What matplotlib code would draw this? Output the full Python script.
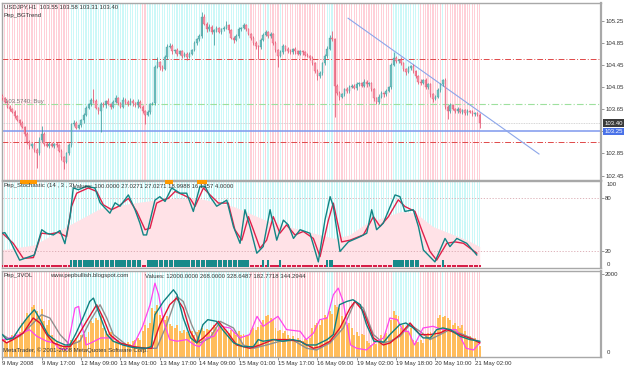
import numpy as np
import matplotlib
matplotlib.use("Agg")
import matplotlib.pyplot as plt
import matplotlib.transforms as mtransforms

plt.rcParams["font.family"] = ["Liberation Sans", "DejaVu Sans"]
FS = 4.3
TXT = "#333333"

# ---------------- USDJPY H1 candles ----------------
first_open = 103.90
closes = [
    103.85, 103.78, 103.70, 103.66, 103.60, 103.52, 103.45, 103.40, 103.33, 103.20,
    103.05, 102.98, 103.02, 102.92, 102.85, 103.10, 103.20, 103.02, 102.98, 103.03,
    102.98, 103.02, 103.00, 102.90, 102.78, 102.70, 102.85, 103.00, 103.38, 103.40,
    103.32, 103.36, 103.45, 103.55, 103.68, 103.75, 103.82, 103.80, 103.68, 103.62,
    103.75, 103.72, 103.80, 103.74, 103.70, 103.78, 103.85, 103.76, 103.70, 103.82,
    103.78, 103.74, 103.80, 103.76, 103.72, 103.78, 103.70, 103.62, 103.55, 103.60,
    103.74, 103.76, 104.42, 104.50, 104.42, 104.38, 104.60, 104.78, 104.80, 104.70,
    104.72, 104.66, 104.70, 104.62, 104.65, 104.60, 104.66, 104.72, 104.85, 104.92,
    104.98, 105.32, 105.20, 105.10, 105.15, 105.05, 105.08, 105.12, 105.05, 105.10,
    105.12, 105.18, 105.08, 104.95, 104.90, 104.98, 105.10, 105.12, 105.18, 105.10,
    105.02, 104.95, 104.85, 104.80, 104.78, 104.90, 105.00, 105.05, 104.98, 105.02,
    104.85, 104.72, 104.62, 104.68, 104.80, 104.75, 104.70, 104.68, 104.74, 104.70,
    104.66, 104.70, 104.68, 104.64, 104.62, 104.58, 104.48, 104.35, 104.25, 104.30,
    104.48, 104.62, 104.75, 104.95, 104.92, 104.08, 103.95, 103.88, 103.92, 104.02,
    103.98, 104.05, 104.08, 104.04, 104.10, 104.12, 104.08, 104.15, 104.10, 104.12,
    104.02, 103.85, 103.78, 103.88, 103.95, 103.92, 103.98, 104.05, 104.45, 104.58,
    104.52, 104.55, 104.48, 104.38, 104.32, 104.40, 104.44, 104.35, 104.25, 104.15,
    104.12, 104.18, 104.05, 104.10, 103.92, 103.84, 103.88, 104.00, 104.10, 104.18,
    103.70, 103.62, 103.72, 103.65, 103.62, 103.66, 103.60, 103.63, 103.58, 103.62,
    103.60, 103.56, 103.58, 103.55, 103.40,
]
# wick lengths in pips above / below the body
hi_wick = [
    3, 2, 3, 2, 2, 3, 2, 2, 3, 2, 3, 4, 2, 3, 2, 5, 15, 3, 4, 2,
    3, 2, 3, 2, 3, 2, 3, 4, 2, 5, 3, 2, 3, 4, 3, 2, 4, 20, 3, 2,
    3, 4, 2, 5, 3, 4, 6, 2, 3, 5, 3, 4, 6, 3, 2, 5, 3, 2, 2, 4,
    2, 3, 4, 9, 3, 4, 3, 5, 6, 3, 2, 4, 3, 2, 4, 3, 3, 2, 4, 3,
    3, 9, 5, 3, 4, 2, 3, 4, 3, 2, 4, 7, 2, 3, 2, 3, 4, 3, 4, 2,
    3, 2, 3, 4, 2, 5, 4, 3, 2, 3, 2, 3, 2, 4, 3, 2, 3, 4, 2, 3,
    3, 2, 3, 2, 3, 2, 3, 2, 3, 4, 3, 4, 5, 4, 12, 3, 2, 4, 3, 2,
    3, 4, 2, 3, 4, 3, 2, 4, 3, 2, 3, 2, 3, 4, 3, 2, 3, 2, 4, 11,
    3, 2, 4, 3, 2, 3, 2, 3, 2, 3, 4, 2, 3, 2, 3, 2, 3, 4, 3, 2,
    3, 2, 4, 3, 2, 3, 2, 3, 2, 3, 2, 3, 2, 3, 3,
]
lo_wick = [
    3, 2, 3, 4, 2, 3, 2, 3, 2, 4, 3, 5, 3, 4, 26, 3, 4, 3, 2, 3,
    2, 3, 4, 3, 4, 13, 3, 2, 3, 4, 3, 2, 3, 4, 2, 3, 4, 3, 2, 5,
    38, 3, 4, 2, 5, 3, 2, 4, 3, 2, 4, 3, 2, 5, 3, 4, 3, 4, 17, 3,
    3, 2, 4, 3, 5, 3, 2, 3, 2, 4, 3, 5, 2, 4, 3, 5, 2, 3, 2, 3,
    4, 3, 2, 5, 3, 4, 23, 3, 2, 4, 3, 2, 4, 3, 5, 2, 3, 4, 2, 3,
    3, 4, 3, 5, 21, 3, 2, 3, 4, 3, 3, 4, 20, 3, 2, 4, 3, 2, 3, 4,
    2, 3, 4, 3, 2, 4, 3, 5, 7, 3, 2, 3, 4, 2, 3, 57, 4, 6, 3, 2,
    4, 3, 2, 3, 4, 2, 3, 2, 4, 3, 3, 5, 4, 3, 2, 4, 3, 2, 3, 2,
    3, 4, 2, 3, 4, 2, 3, 4, 3, 5, 3, 2, 4, 3, 4, 5, 3, 2, 3, 2,
    4, 15, 3, 2, 4, 3, 2, 3, 4, 3, 2, 3, 4, 3, 9,
]

# background trend stripes (d = pink, u = cyan), as runs of bars
bg_runs = [("d", 28), ("u", 29), ("d", 2), ("u", 42), ("d", 5), ("u", 1), ("d", 1),
           ("u", 1), ("d", 4), ("u", 1), ("d", 18), ("u", 3), ("d", 24), ("u", 11),
           ("d", 9), ("u", 1), ("d", 15)]
mark_runs = bg_runs

# chart objects
levels_red = [104.556, 103.05]
level_green = 103.75
bid_price = 103.40
level_blue = 103.25
trend_x = [140.5, 218.1]
trend_y = [105.30, 102.84]

# ---------------- Stochastic (14,3,3) ----------------
st_main_x = [0, 1, 3, 7, 11, 13, 16, 18, 20.7, 23.4, 25.4, 27.5, 28.8, 30.9, 34.2, 37.6, 39.7,
             43.7, 45.8, 47.8, 51.2, 53.9, 55.9, 57.3, 58.6, 62, 64, 66.1, 68.8, 72.2, 74.9,
             77.6, 80.3, 82.4, 84.4, 87.1, 91.2, 93.9, 96.6, 98.6, 100.6, 103.4, 106, 108.8,
             111.5, 114.2, 116.2, 118.3, 121, 125, 128.4, 131.1, 133.2, 134.5, 137.2, 140.6,
             145.4, 148.1, 150.1, 152.1, 154.8, 159.6, 161.6, 163.6, 167, 169.1, 171.1, 175.8,
             179.9, 181.9, 184.7, 188.7, 192.8]
st_main_v = [40, 40.7, 32, 9, 13, 15, 44, 40, 38, 43, 28, 59, 92, 90, 94, 92, 75,
             63, 75, 71, 84, 67, 51.5, 38, 38, 78, 82, 76.5, 92, 86, 86,
             65, 94, 94, 82, 71, 78, 47.6, 28.4, 67, 47.6, 17, 24.6, 67,
             32, 55, 49.6, 34, 44, 40, 7, 55, 82, 71, 19, 30,
             36, 40, 67, 44, 51.5, 84, 82, 65, 67, 47.6, 20.7, 7,
             34, 24.6, 34, 28.4, 15]
st_sig_x = [0, 4.4, 8.5, 12.6, 15.9, 19.3, 22.7, 26.1, 28.1, 30.2, 34.9, 38.3, 41, 44.4, 47.1,
            51.2, 54.6, 58, 60, 62.7, 65.4, 67.4, 70.2, 73.5, 76.3, 78.3, 81.7, 84.4, 87.8,
            91.8, 94.5, 97.3, 100, 102, 104.7, 107.4, 110.1, 112.8, 115.5, 118.9, 122.3,
            126.4, 129.1, 132.5, 134.5, 137.9, 141.3, 146.7, 150.8, 153.5, 156.9, 160.9,
            163.6, 167.7, 170.4, 173.8, 176.5, 180.6, 184, 187.4, 192.8]
st_sig_v = [40, 28.4, 11, 12, 40, 39, 41, 36, 70.7, 86, 92, 88, 72.7, 67, 70.7,
            80, 65, 44, 45.7, 74.6, 78.4, 80, 88, 84, 80, 70.7, 92, 84, 74.6,
            74.6, 44, 32, 59, 44, 22.7, 32, 59, 40, 49.6, 38, 42,
            34, 13, 55, 74.6, 30, 32, 38, 59, 47.7, 59, 78.4,
            70.7, 65, 44, 19, 9, 28.4, 30, 28.4, 17]
hump_x = [0, 13, 26, 40, 53, 67, 80, 94, 107, 121, 135, 141, 148, 162, 168, 175, 189, 194]
hump_v = [21, 26.5, 47.6, 68.8, 74.6, 80, 80, 70.7, 55, 44, 34, 38, 51.5, 65, 63, 47.6, 32, 24.6]
orange_spans = [(7.2, 14.0), (66.0, 69.4), (79.0, 83.2)]

# ---------------- Volume + 3 averages ----------------
volume = [
    380, 420, 350, 460, 520, 560, 480, 600, 820, 900,
    1050, 980, 1200, 1260, 1100, 1000, 1150, 860, 780, 900,
    520, 450, 380, 300, 280, 320, 260, 300, 420, 380,
    460, 400, 520, 560, 480, 600, 860, 820, 940, 900,
    980, 700, 620, 560, 600, 500, 380, 420, 360, 340,
    300, 360, 320, 380, 420, 460, 400, 620, 780, 700,
    820, 1180, 1100, 1260, 1020, 940, 880, 980, 800, 740,
    700, 760, 620, 580, 660, 600, 560, 620, 540, 600,
    640, 700, 620, 680, 660, 600, 780, 720, 820, 760,
    700, 620, 580, 660, 600, 540, 620, 520, 560, 500,
    540, 660, 700, 640, 720, 760, 900, 980, 1020, 940,
    880, 700, 620, 660, 580, 620, 540, 460, 500, 420,
    460, 420, 380, 440, 400, 460, 700, 780, 820, 760,
    900, 1020, 960, 1100, 1040, 1260, 1200, 1180, 1000, 900,
    780, 820, 700, 540, 600, 500, 560, 520, 380, 340,
    300, 360, 320, 420, 540, 500, 580, 520, 900, 1100,
    1020, 980, 700, 760, 680, 620, 700, 420, 380, 360,
    400, 340, 520, 580, 600, 560, 620, 940, 1020, 960,
    1000, 940, 880, 780, 820, 740, 700, 780, 620, 460,
    500, 420, 460, 380, 268,
]
mag_x = [0, 3, 7, 11, 14, 18, 21, 23, 26, 28, 29.5, 31, 32, 34, 36, 40, 45, 49, 53, 57, 60, 62,
         63.5, 65.5, 68, 71, 75, 78, 80, 83, 86, 88.5, 92.5, 96.5, 100.5, 103.5, 106, 109, 112,
         115.5, 121, 123.5, 126.5, 129, 132, 134.5, 136.5, 138.5, 141.5, 144, 148, 152, 155,
         157.5, 160.5, 163, 165, 167.5, 171, 175, 179, 184.5, 188.5, 191.5, 194]
mag_v = [410, 460, 540, 660, 500, 380, 340, 210, 170, 700, 1180, 1220, 860, 290, 340, 460, 460,
         290, 250, 740, 1260, 1780, 1500, 860, 420, 380, 420, 290, 250, 460, 500, 740, 700, 460,
         540, 980, 740, 860, 980, 660, 620, 420, 580, 900, 940, 1500, 1660, 1340, 290, 210, 170,
         380, 460, 940, 900, 620, 620, 290, 700, 740, 660, 660, 210, 170, 340]
teal_x = [0, 1.7, 4.4, 7, 10, 13, 15, 18.5, 22, 25.5, 27.5, 30, 33, 35.5, 37, 39.5, 42.5, 45, 49,
          53, 58.5, 60.5, 62, 65.5, 69.5, 71, 73.5, 76.5, 79, 81.5, 83.5, 87, 90, 94, 98, 102,
          104, 106, 110, 114, 118, 121, 123.5, 127.5, 132, 134.5, 137, 140, 142.5, 145.5, 148,
          151, 155, 157.5, 161.5, 164, 167, 171, 174, 176.5, 179, 182, 186, 190, 194]
teal_v = [540, 420, 460, 700, 940, 1140, 940, 540, 380, 290, 290, 580, 980, 1340, 1420, 1020, 540,
          380, 290, 230, 210, 250, 1020, 1340, 1620, 1500, 940, 460, 340, 780, 900, 860, 620, 340,
          250, 250, 420, 380, 420, 380, 420, 380, 290, 290, 420, 540, 1260, 1340, 1380, 1260, 780,
          380, 360, 540, 780, 820, 700, 460, 460, 660, 700, 660, 500, 420, 380]
red_x = [0, 1.7, 4.4, 8.5, 12.5, 15.3, 18, 20.7, 24.8, 27.5, 30.2, 34.2, 38.3, 41, 43.7, 47.8, 53.2,
         58.6, 60.7, 64, 68, 70.8, 73.5, 76.3, 79, 81.7, 84.4, 87.8, 91.2, 95.2, 100.6, 104.7,
         110.1, 115.5, 121, 126.4, 129.1, 133.2, 137.2, 141.3, 143.3, 146.7, 150.8, 154.8, 157.6,
         161.6, 165.7, 169.7, 173.8, 177.9, 180.6, 186, 191.4, 194]
red_v = [410, 340, 420, 580, 940, 820, 540, 340, 250, 250, 460, 860, 1260, 940, 540, 340, 250,
         210, 210, 780, 1260, 1420, 1180, 620, 340, 460, 620, 860, 620, 290, 210, 290,
         420, 420, 380, 210, 250, 380, 700, 1180, 1340, 1100, 460, 290, 340,
         540, 820, 540, 540, 580, 660, 540, 420, 340]
gray_x = [0, 3.1, 7.1, 11.2, 15.9, 19.3, 23.4, 27.5, 31.5, 35.6, 39.7, 42.4, 45.1, 50.5, 55.9, 62.7,
          66.8, 70.8, 73.5, 76.9, 80.3, 84.4, 88.5, 93.9, 97.9, 102, 107.4, 112.8, 118.3, 123.7,
          127.7, 133.2, 138.6, 143.3, 146.7, 150.8, 154.8, 157.6, 161.6, 165.7, 169.7, 173.8,
          177.9, 181.9, 187.4, 194]
gray_v = [540, 420, 500, 740, 1020, 940, 540, 290, 380, 860, 1260, 940, 540, 290, 210, 210,
          780, 1460, 1340, 780, 340, 460, 860, 700, 290, 210, 290, 380, 400, 210,
          170, 340, 700, 1340, 1180, 540, 340, 380, 500, 780, 620, 420,
          540, 660, 540, 360]

date_labels = ["9 May 2008", "9 May 17:00", "12 May 09:00", "13 May 01:00", "13 May 17:00",
               "14 May 09:00", "15 May 01:00", "15 May 17:00", "16 May 09:00", "19 May 02:00",
               "19 May 18:00", "20 May 10:00", "21 May 02:00"]
price_ticks = [105.25, 104.85, 104.45, 104.05, 103.65, 103.25, 102.85, 102.45]

# ---------------- derived ----------------
n = len(closes)
idx = np.arange(n)
c = np.array(closes)
o = np.concatenate([[first_open], c[:-1]])
hi = np.maximum(o, c) + np.array(hi_wick) * 0.01
lo = np.minimum(o, c) - np.array(lo_wick) * 0.01
bg = "".join(k * m for k, m in bg_runs)
marks = "".join(k * m for k, m in mark_runs)
up = c >= o

W, H = 625, 368
fig = plt.figure(figsize=(W / 100, H / 100), dpi=100)
fig.patch.set_facecolor("white")


def box(top, bottom):
    return [2 / W, 1 - bottom / H, 599 / W, (bottom - top) / H]


ax1 = fig.add_axes(box(3, 180))
ax2 = fig.add_axes(box(181, 268), sharex=ax1)
ax3 = fig.add_axes(box(271, 357), sharex=ax1)

XL = (-0.16, 243.3)
PINK, CYAN = "#ffd0d8", "#ccf8f8"

for ax in (ax1, ax2, ax3):
    ax.set_xlim(*XL)
    for s in ax.spines.values():
        s.set_color("#a8a8a8")
        s.set_linewidth(1.0)
    ax.spines["right"].set_linewidth(1.6)
    ax.yaxis.tick_right()
    ax.tick_params(axis="y", direction="out", length=2, width=0.6, colors="#888888",
                   labelcolor=TXT, labelsize=FS, pad=1)
    ax.tick_params(axis="x", bottom=False, labelbottom=False)

# ---- main price panel ----
ax1.set_ylim(102.369, 105.576)
y0, y1 = ax1.get_ylim()
stripe_cols = [PINK if t == "d" else CYAN for t in bg]
ax1.bar(idx, y1 - y0, bottom=y0, width=0.5, color=stripe_cols, linewidth=0, zorder=0)
for lv in levels_red:
    ax1.axhline(lv, color="#e04848", lw=0.7, ls=(0, (6, 2, 1, 2)), zorder=1)
ax1.axhline(level_green, color="#9ee09e", lw=0.8, ls=(0, (6, 2, 1, 2)), zorder=1)
ax1.axhline(bid_price, color="#c8c8c8", lw=0.6, ls=(0, (1, 1)), zorder=1)
ax1.axhline(level_blue, color="#7f98ee", lw=1.1, zorder=1)
ax1.plot(trend_x, trend_y, color="#8ca6ea", lw=0.8, zorder=2)

body_col = np.where(up, "#72c0c0", "#f592a6")
wick_col = np.where(up, "#3a9c9c", "#e4506c")
ax1.vlines(idx, lo, hi, colors=wick_col, lw=0.55, zorder=3)
ax1.bar(idx, np.maximum(np.abs(c - o), 0.006), bottom=np.minimum(o, c), width=0.6,
        color=body_col, edgecolor=wick_col, linewidth=0.25, zorder=4)
ax1.set_yticks(price_ticks)
ax1.set_yticklabels([f"{p:.2f}" for p in price_ticks])
trans = mtransforms.blended_transform_factory(ax1.transAxes, ax1.transData)
ax1.text(1.006, bid_price, f"{bid_price:.2f}", transform=trans, ha="left", va="center",
         fontsize=FS, color="white",
         bbox=dict(facecolor="#3a3a3a", edgecolor="none", pad=0.8))
ax1.text(1.006, level_blue, f"{level_blue:.2f}", transform=trans, ha="left", va="center",
         fontsize=FS, color="white",
         bbox=dict(facecolor="#4a72e8", edgecolor="none", pad=0.8))
ax1.text(1.2, 103.80, "103.5740; Buy", fontsize=FS, color="#777777", va="center", zorder=5)

# ---- stochastic panel ----
ax2.set_ylim(0, 100)
ax2.bar(idx, 100, width=0.5, color=CYAN, linewidth=0, zorder=0)
ax2.fill_between(hump_x, 0, hump_v, color="#ffe2e7", linewidth=0, zorder=1)
for lv in (80, 20):
    ax2.axhline(lv, color="#d9a8b0", lw=0.6, ls=(0, (1.5, 2)), zorder=2)
mcols = ["#d81e48" if m == "d" else "#178a8a" for m in marks]
mh = [3.0 if m == "d" else 8.0 for m in marks]
ax2.bar(idx, mh, bottom=0.8, width=0.85, color=mcols, linewidth=0, zorder=3)
ax2.plot(st_sig_x, st_sig_v, color="#e0204a", lw=1.0, zorder=4)
ax2.plot(st_main_x, st_main_v, color="#118585", lw=1.0, zorder=5)
for a, b in orange_spans:
    ax2.add_patch(plt.Rectangle((a, 96.8), b - a, 4.2, color="#ff9900", lw=0,
                                zorder=6, clip_on=False))
ax2.set_yticks([80, 20])
ax2.text(1.01, 0.96, "100", transform=ax2.transAxes, fontsize=FS, color=TXT, va="center")
ax2.text(1.01, 0.04, "0", transform=ax2.transAxes, fontsize=FS, color=TXT, va="center")

# ---- volume panel ----
ax3.set_ylim(0, 2073)
ax3.bar(idx, 2073, width=0.5, color=stripe_cols, linewidth=0, zorder=0)
ax3.bar(idx, volume, width=0.8, color="#ffbd5c", linewidth=0, zorder=1)
ax3.plot(gray_x, gray_v, color="#8f8f8f", lw=1.0, zorder=2)
ax3.plot(mag_x, mag_v, color="#ff44ee", lw=0.9, zorder=3)
ax3.plot(red_x, red_v, color="#e0102e", lw=1.0, zorder=4)
ax3.plot(teal_x, teal_v, color="#0f8080", lw=1.0, zorder=5)
ax3.set_yticks([2000])
ax3.text(1.01, 0.05, "0", transform=ax3.transAxes, fontsize=FS, color=TXT, va="center")
ax3.set_xticks(idx[::16])
ax3.set_xticklabels(date_labels)
ax3.tick_params(axis="x", bottom=True, labelbottom=True, direction="out", length=2.5,
                width=0.6, colors="#888888", labelcolor=TXT, labelsize=FS, pad=0.5)
for lab in ax3.get_xticklabels():
    lab.set_ha("left")


def ftext(x, y, s, **kw):
    fig.text(x / W, 1 - y / H, s, fontsize=FS, color=TXT, va="center", **kw)


ftext(4, 7, "USDJPY,H1  103.55 103.58 103.31 103.40")
ftext(4, 16, "Pep_BGTrend")
ftext(4, 186, "Pep_Stochastic")
ftext(47, 186, "(14 , 3 , 3)")
ftext(73, 186, "Values: 100.0000 27.0271 27.0271 18.9988 16.1257 4.0000")
ftext(4, 276, "Pep_3VOL")
ftext(50, 276, "www.pepbullish.blogspot.com")
ftext(145, 276, "Values: 12000.0000 268.0000 328.6487 182.7718 344.2944")
ftext(3, 350, "MetaTrader, \u00a9 2001-2008 MetaQuotes Software Corp.")

fig.savefig("out.png", dpi=100)
